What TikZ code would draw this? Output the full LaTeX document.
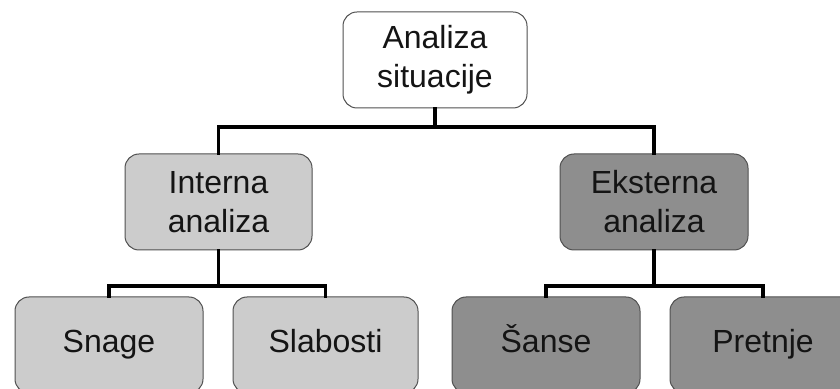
\documentclass[tikz,border=0pt]{standalone}
\usepackage{fontspec}
\setmainfont{Liberation Sans}
\definecolor{lightbox}{HTML}{CCCCCC}
\definecolor{darkbox}{HTML}{8E8E8E}
\definecolor{boxline}{HTML}{505050}
\definecolor{txt}{HTML}{141414}
\begin{document}
\begin{tikzpicture}[x=1pt,y=1pt,
  box/.style={draw=boxline, line width=1pt, rounded corners=14pt, align=center,
    text=txt, font=\fontsize{32}{39}\selectfont, inner sep=0pt},
  single/.style={box, text height=23pt, text depth=7pt, minimum height=96pt},
  conn/.style={line width=3.5pt, line cap=rect, black}]
\useasboundingbox (0,0) rectangle (840,388);
\clip (0,0) rectangle (840,388);
\node[box, fill=white, minimum width=184pt, minimum height=96pt] (top) at (435,328) {Analiza\\situacije};
\node[box, fill=lightbox, minimum width=187pt, minimum height=96pt] (int) at (218.5,186) {Interna\\analiza};
\node[box, fill=darkbox, minimum width=188pt, minimum height=96pt] (ext) at (654,186) {Eksterna\\analiza};
\node[single, fill=lightbox, minimum width=188pt] (sn) at (109,43) {Snage};
\node[single, fill=lightbox, minimum width=185pt] (sl) at (325.5,43) {Slabosti};
\node[single, fill=darkbox, minimum width=188pt] (sa) at (546,43) {Šanse};
\node[single, fill=darkbox, minimum width=186pt] (pr) at (763,43) {Pretnje};
\coordinate (b1) at (435,261);
\coordinate (b2) at (218.5,102);
\coordinate (b3) at (654,102);
\draw[conn] (top.south) -- (b1) -| (int.north);
\draw[conn] (b1) -| (ext.north);
\draw[conn] (int.south) -- (b2) -| (sn.north);
\draw[conn] (b2) -| (sl.north);
\draw[conn] (ext.south) -- (b3) -| (sa.north);
\draw[conn] (b3) -| (pr.north);
\end{tikzpicture}
\end{document}
